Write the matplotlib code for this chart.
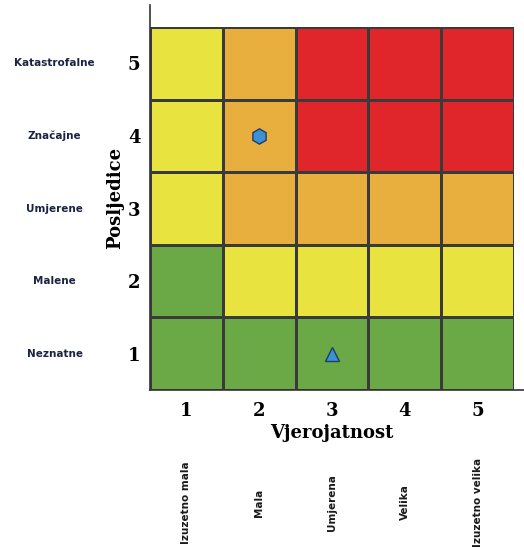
import matplotlib.pyplot as plt
from matplotlib.colors import ListedColormap
from matplotlib.transforms import blended_transform_factory
import numpy as np

# risk matrix: rows = posljedice 1..5, columns = vjerojatnost 1..5
# 0 = nizak, 1 = umjeren, 2 = visok, 3 = ekstreman
risk = [
    [0, 0, 0, 0, 0],
    [0, 1, 1, 1, 1],
    [1, 2, 2, 2, 2],
    [1, 2, 3, 3, 3],
    [1, 2, 3, 3, 3],
]
levels = [1, 2, 3, 4, 5]
prob_labels = ["Izuzetno mala", "Mala", "Umjerena", "Velika", "Izuzetno velika"]
cons_labels = ["Neznatne", "Malene", "Umjerene", "Značajne", "Katastrofalne"]
risk_colors = ["#6aa945", "#e8e33e", "#e8ae3e", "#e0262b"]

# identified risks (vjerojatnost, posljedice)
hex_point = (2, 4)
tri_point = (3, 1)

fig = plt.figure(figsize=(5.24, 5.48), dpi=100)
ax = fig.add_axes([150 / 524, 1 - 390 / 548, 364 / 524, 363 / 548])

edges = np.arange(0.5, 6.0, 1.0)
ax.pcolormesh(edges, edges, np.array(risk), cmap=ListedColormap(risk_colors),
              vmin=-0.5, vmax=3.5, edgecolor="#3a3a3a", linewidth=1.0)

ax.plot(*hex_point, marker="h", markersize=11, color="#3f8fd6",
        markeredgecolor="#1c3f66", markeredgewidth=1.0, linestyle="none")
ax.plot(*tri_point, marker="^", markersize=10, color="#3f8fd6",
        markeredgecolor="#1c3f66", markeredgewidth=1.0, linestyle="none")

ax.set_xlim(0.5, 5.5)
ax.set_ylim(0.5, 5.5)
for s in ax.spines.values():
    s.set_visible(False)

# axis lines run a bit past the grid
ax.plot([0, 0], [0, 1.06], transform=ax.transAxes, color="#333333", lw=1.2, clip_on=False)
ax.plot([0, 1.03], [0, 0], transform=ax.transAxes, color="#333333", lw=1.2, clip_on=False)

serif = "DejaVu Serif"
ax.set_xticks(levels)
ax.set_yticks(levels)
ax.set_xticklabels([str(v) for v in levels], fontfamily=serif, fontweight="bold", fontsize=13)
ax.set_yticklabels([str(v) for v in levels], fontfamily=serif, fontweight="bold", fontsize=13)
ax.tick_params(axis="x", length=0, pad=9)
ax.tick_params(axis="y", length=0, pad=7)

ax.text(0.5, -0.118, "Vjerojatnost", transform=ax.transAxes, ha="center", va="center",
        fontfamily=serif, fontweight="bold", fontsize=13)
ax.text(-0.096, 0.53, "Posljedice", transform=ax.transAxes, ha="center", va="center",
        rotation=90, fontfamily=serif, fontweight="bold", fontsize=13)

# category names for both scales
ty = blended_transform_factory(ax.transAxes, ax.transData)
for v, name in zip(levels, cons_labels):
    ax.text(-0.262, v, name, transform=ty, ha="center", va="center",
            fontfamily="Liberation Sans Narrow", fontweight="bold", fontsize=7.5, color="#1a2345")

tx = blended_transform_factory(ax.transData, ax.transAxes)
for v, name in zip(levels, prob_labels):
    ax.text(v, -0.31, name, transform=tx, ha="center", va="center", rotation=90,
            fontfamily="Liberation Sans Narrow", fontweight="bold", fontsize=7.5, color="#1a1a1a")

fig.savefig("out.png", dpi=100)
